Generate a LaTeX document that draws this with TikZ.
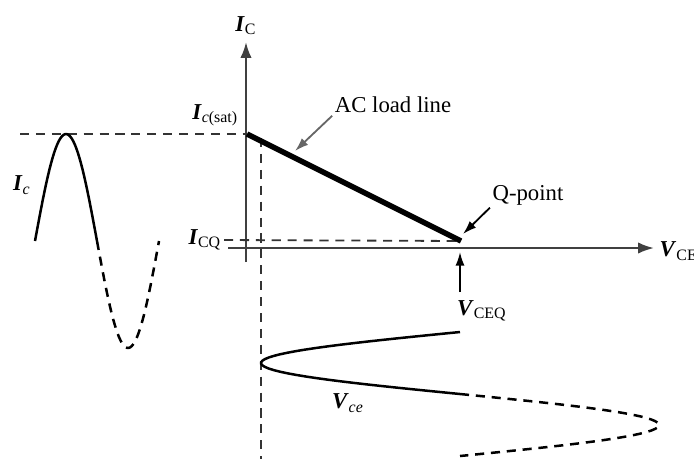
\documentclass[tikz,border=0pt]{standalone}
\usepackage{fontspec}
\setmainfont{Liberation Serif}
\usetikzlibrary{arrows.meta, positioning}

\begin{document}
\begin{tikzpicture}[
  x=0.44pt, y=-0.44pt,
  axis/.style={-{Latex[length=7pt,width=5pt]}, line width=1pt, black!75},
  guide/.style={dash pattern=on 4pt off 3pt, line width=0.8pt, black!80},
  wave/.style={line width=1.1pt},
  wavedash/.style={wave, dash pattern=on 4pt off 3pt},
  loadline/.style={line width=2.4pt},
  pointer/.style={-{Latex[length=6pt,width=4pt]}, line width=0.8pt},
  lbl/.style={inner sep=1pt}
]
\useasboundingbox (0,0) rectangle (694,459);

\coordinate (ybot) at (246,262);
\coordinate (ytop) at (246,42);
\coordinate (xleft) at (228,248);
\coordinate (xright) at (654,248);
\coordinate (sat) at (247,134);
\coordinate (satleft) at (20,134);
\coordinate (Q) at (461,241);
\coordinate (vtop) at (261,138);
\coordinate (vbot) at (261,459);
\coordinate (loadtip) at (295,151);
\coordinate (qtip) at (463,234);
\coordinate (vceqfoot) at (460,292);
\coordinate (vceqtip) at (460,252);

\node[lbl, above=2pt of ytop] (ic) {\textbf{\textit{I}}\textsubscript{C}};
\node[lbl, anchor=west] (vce) at (657,251) {\textbf{\textit{V}}\textsubscript{CE}};
\node[lbl, anchor=east] (icsat) at (241,115) {\textbf{\textit{I}}\textsubscript{\textit{c}(sat)}};
\node[lbl, anchor=east] (icq) at (224,240) {\textbf{\textit{I}}\textsubscript{CQ}};
\node[lbl] (acl) at (393,105) {AC load line};
\node[lbl] (qpt) at (528,195) {Q-point};
\node[lbl] (vceq) at (482,311) {\textbf{\textit{V}}\textsubscript{CEQ}};
\node[lbl] (icwave) at (22,185) {\textbf{\textit{I}}\textsubscript{\textit{c}}};
\node[lbl] (vcewave) at (348,403) {\textbf{\textit{V}}\textsubscript{\textit{ce}}};

\draw[axis] (ybot) -- (ytop);
\draw[axis] (xleft) -- (xright);
\draw[guide] (satleft) -- (sat);
\draw[guide] (vtop) -- (vbot);
\draw[guide] (icq.east) -- (Q);
\draw[loadline] (sat) -- (Q);

\draw[pointer, black!60] (acl.south west) -- (loadtip);
\draw[pointer] (qpt.south west) -- (qtip);
\draw[pointer] (vceqfoot) -- (vceqtip);

\draw[wave] plot[domain=35:97, samples=40] (\x,{241-107*sin((\x-35)/124*360)});
\draw[wavedash] plot[domain=97:159, samples=40] (\x,{241-107*sin((\x-35)/124*360)});
\draw[wave] plot[domain=332:394, samples=40] ({460-199*sin((\x-332)/124*360)},\x);
\draw[wavedash] plot[domain=394:456, samples=40] ({460-199*sin((\x-332)/124*360)},\x);

\end{tikzpicture}
\end{document}
